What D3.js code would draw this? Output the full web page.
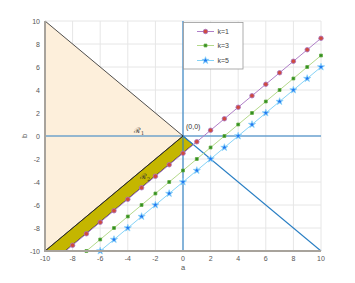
<!DOCTYPE html>
<html><head><meta charset="utf-8">
<script src="https://cdn.jsdelivr.net/npm/d3@7"></script>
<style>body{margin:0;background:#fff}svg{display:block}text{font-family:"Liberation Sans",Arial,sans-serif}</style>
</head><body><div id="c"></div>
<script>
const ticks = [-10,-8,-6,-4,-2,0,2,4,6,8,10];
const seriesNames = ["k=1","k=3","k=5"];
// k=1
const k1LineA = [-8.5,10];
const k1LineB = [-10,8.5];
const k1A = [-8,-7,-6,-5,-4,-3,-2,-1,0,1,2,3,4,5,6,7,8,9,10];
const k1B = [-9.5,-8.5,-7.5,-6.5,-5.5,-4.5,-3.5,-2.5,-1.5,-0.5,0.5,1.5,2.5,3.5,4.5,5.5,6.5,7.5,8.5];
// k=3
const k3A = [-7,-6,-5,-4,-3,-2,-1,0,1,2,3,4,5,6,7,8,9,10];
const k3B = [-10,-9,-8,-7,-6,-5,-4,-3,-2,-1,0,1,2,3,4,5,6,7];
// k=5
const k5A = [-6,-5,-4,-3,-2,-1,0,1,2,3,4,5,6,7,8,9,10];
const k5B = [-10,-9,-8,-7,-6,-5,-4,-3,-2,-1,0,1,2,3,4,5,6];
// regions
const region1 = [[-10,10],[0,0],[-10,-10]];
const region2 = [[0,0],[0.73,-0.73],[-8.55,-10],[-10,-10]];

const W=355,H=283;
const x=d3.scaleLinear().domain([-10,10]).range([45,321]);
const y=d3.scaleLinear().domain([-10,10]).range([251,21]);
const svg=d3.select("#c").append("svg").attr("width",W).attr("height",H);

// grid
const g=svg.append("g");
g.selectAll(".gx").data(ticks).enter().append("line").attr("x1",d=>x(d)).attr("x2",d=>x(d)).attr("y1",y(-10)).attr("y2",y(10)).attr("stroke","#e6e6e6").attr("stroke-width",1);
g.selectAll(".gy").data(ticks).enter().append("line").attr("y1",d=>y(d)).attr("y2",d=>y(d)).attr("x1",x(-10)).attr("x2",x(10)).attr("stroke","#e6e6e6").attr("stroke-width",1);

const poly=d3.line().x(d=>x(d[0])).y(d=>y(d[1]));
svg.append("path").attr("d",poly(region1)+"Z").attr("fill","#fdefdb").attr("stroke","none");
svg.append("path").attr("d",poly(region2)+"Z").attr("fill","#c4b600").attr("stroke","#222").attr("stroke-width",0.8);

// reference lines
const blue="#2a7fc4";
svg.append("path").attr("d",poly([[-10,0],[10,0]])).attr("stroke",blue).attr("stroke-width",1.1).attr("fill","none");
svg.append("path").attr("d",poly([[0,-10],[0,10]])).attr("stroke",blue).attr("stroke-width",1.1).attr("fill","none");
svg.append("path").attr("d",poly([[0,0],[10,-10]])).attr("stroke",blue).attr("stroke-width",1.1).attr("fill","none");
svg.append("path").attr("d",poly([[-10,10],[0,0]])).attr("stroke","#222").attr("stroke-width",0.8).attr("fill","none");
svg.append("path").attr("d",poly([[-10,-10],[0,0]])).attr("stroke","#222").attr("stroke-width",0.8).attr("fill","none");

// series
const ln=d3.line().x(d=>x(d[0])).y(d=>y(d[1]));
const colors={k1:{line:"#b07fc8",fill:"#cf4a3e",stroke:"#a875c4"},k3:{line:"#b4d98a",fill:"#2e8b1e",stroke:"#5aa83a"},k5:{line:"#86d3f7",fill:"#1f78f0",stroke:"#8fd6fa"}};
svg.append("path").attr("d",ln(k1LineA.map((a,i)=>[a,k1LineB[i]]))).attr("stroke",colors.k1.line).attr("stroke-width",1).attr("fill","none");
svg.append("path").attr("d",ln(k3A.map((a,i)=>[a,k3B[i]]))).attr("stroke",colors.k3.line).attr("stroke-width",1).attr("fill","none");
svg.append("path").attr("d",ln(k5A.map((a,i)=>[a,k5B[i]]))).attr("stroke",colors.k5.line).attr("stroke-width",1).attr("fill","none");

const circ=d3.symbol().type(d3.symbolCircle).size(16);
const sq=d3.symbol().type(d3.symbolSquare).size(8);
const star=d3.symbol().type(d3.symbolStar).size(16);
function markers(A,B,sym,c){
  svg.append("g").selectAll("path").data(A.map((a,i)=>[a,B[i]])).enter().append("path")
    .attr("d",sym).attr("transform",d=>`translate(${x(d[0])},${y(d[1])})`)
    .attr("fill",c.fill).attr("stroke",c.stroke).attr("stroke-width",0.8);
}
markers(k1A,k1B,circ,colors.k1);
markers(k3A,k3B,sq,colors.k3);
markers(k5A,k5B,star,colors.k5);

// axes
svg.append("line").attr("x1",x(-10)).attr("x2",x(-10)).attr("y1",y(-10)+1).attr("y2",y(10)).attr("stroke","#a8a39c").attr("stroke-width",2);
svg.append("line").attr("x1",x(-10)-1).attr("x2",x(10)).attr("y1",y(-10)).attr("y2",y(-10)).attr("stroke","#a8a39c").attr("stroke-width",2);
svg.append("g").selectAll("text").data(ticks).enter().append("text").attr("x",x(-10)-5).attr("y",d=>y(d)+2.5).attr("text-anchor","end").attr("font-size",7).attr("fill","#555").text(d=>d);
svg.append("g").selectAll("text").data(ticks).enter().append("text").attr("x",d=>x(d)).attr("y",y(-10)+10).attr("text-anchor","middle").attr("font-size",7).attr("fill","#555").text(d=>d);
svg.append("text").attr("x",x(0)).attr("y",270).attr("text-anchor","middle").attr("font-size",7.5).attr("fill","#555").text("a");
svg.append("text").attr("transform",`translate(27,${y(0)}) rotate(-90)`).attr("text-anchor","middle").attr("font-size",7.5).attr("fill","#555").text("b");

// annotations
svg.append("text").attr("x",186).attr("y",129).attr("font-size",7).attr("fill","#333").text("(0,0)");
const r1=svg.append("text").attr("x",134).attr("y",133).attr("font-size",7.5).attr("fill","#333").style("font-family","'DejaVu Serif',serif");
r1.append("tspan").text("\u211B");
r1.append("tspan").attr("font-size",5).attr("dy",1.5).text("1");
const r2=svg.append("text").attr("x",140).attr("y",179).attr("font-size",7.5).attr("fill","#333").style("font-family","'DejaVu Serif',serif");
r2.append("tspan").text("\u211B");
r2.append("tspan").attr("font-size",5).attr("dy",1.5).text("2");

// legend
const lg=svg.append("g");
lg.append("rect").attr("x",183.5).attr("y",22.5).attr("width",59.5).attr("height",46.5).attr("fill","#fff").attr("stroke","#999").attr("stroke-width",0.8);
const legY=[31.5,45.5,60.5];
const legSym=[circ,sq,star];
const legC=[colors.k1,colors.k3,colors.k5];
seriesNames.forEach((n,i)=>{
  lg.append("line").attr("x1",197).attr("x2",214).attr("y1",legY[i]).attr("y2",legY[i]).attr("stroke",legC[i].line).attr("stroke-width",1);
  lg.append("path").attr("d",legSym[i]).attr("transform",`translate(205.5,${legY[i]})`).attr("fill",legC[i].fill).attr("stroke",legC[i].stroke).attr("stroke-width",0.8);
  lg.append("text").attr("x",217.5).attr("y",legY[i]+2.5).attr("font-size",7).attr("fill","#444").text(n);
});
</script></body></html>
